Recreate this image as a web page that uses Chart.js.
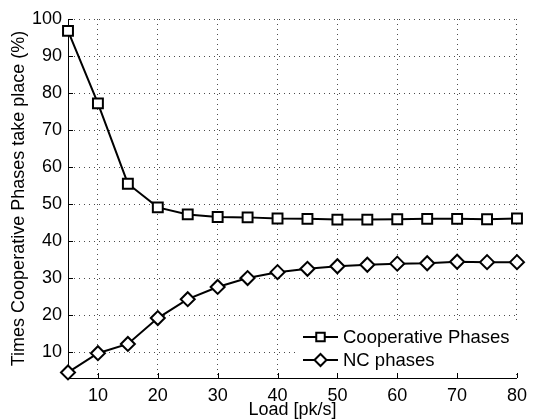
<!DOCTYPE html>
<html>
<head>
<meta charset="utf-8">
<script src="https://cdn.jsdelivr.net/npm/chart.js@4"></script>
<style>
  html, body { margin: 0; padding: 0; background: #fff; }
  #wrap { width: 534px; height: 419px; }
</style>
</head>
<body>
<div id="wrap"><canvas id="phases"></canvas></div>
<script>
// Load values [pk/s]
const loads = [5, 10, 15, 20, 25, 30, 35, 40, 45, 50, 55, 60, 65, 70, 75, 80];
// Share of cooperative / non-cooperative phases (%)
const cooperative = [96.8, 77.2, 55.5, 49.1, 47.2, 46.5, 46.4, 46.1, 46.0, 45.8, 45.8, 45.9, 46.0, 46.0, 45.9, 46.1];
const ncPhases = [4.5, 9.7, 12.2, 19.2, 24.3, 27.6, 30.0, 31.6, 32.5, 33.2, 33.6, 33.9, 34.0, 34.4, 34.3, 34.3];
const xTicks = [10, 20, 30, 40, 50, 60, 70, 80];
const yTicks = [10, 20, 30, 40, 50, 60, 70, 80, 90, 100];

const FONT = '"Liberation Sans", Arial, Helvetica, sans-serif';
const gridColor = '#4a4a4a';

// MATLAB-like inward tick marks on the left and bottom axes
const inwardTicks = {
  id: 'inwardTicks',
  afterDraw(chart) {
    const { ctx, chartArea: a, scales: { x, y } } = chart;
    ctx.save();
    ctx.strokeStyle = '#000';
    ctx.lineWidth = 1;
    ctx.beginPath();
    xTicks.forEach(v => {
      const px = Math.round(x.getPixelForValue(v)) + 0.5;
      ctx.moveTo(px, a.bottom);
      ctx.lineTo(px, a.bottom - 5);
    });
    yTicks.forEach(v => {
      const py = Math.round(y.getPixelForValue(v)) + 0.5;
      ctx.moveTo(a.left, py);
      ctx.lineTo(a.left + 5, py);
    });
    ctx.stroke();
    ctx.restore();
  }
};

// Legend box sitting inside the plot, lower right
const innerLegend = {
  id: 'innerLegend',
  afterDatasetsDraw(chart) {
    const { ctx } = chart;
    const bx = 299, by = 323, bw = 221, bh = 50;
    ctx.save();
    ctx.fillStyle = '#fff';
    ctx.fillRect(bx, by, bw, bh);
    chart.data.datasets.forEach((ds, i) => {
      const cy = 337 + i * 23;
      ctx.strokeStyle = '#000';
      ctx.lineWidth = 2;
      ctx.beginPath();
      ctx.moveTo(303, cy);
      ctx.lineTo(338, cy);
      ctx.stroke();
      ctx.fillStyle = '#fff';
      Chart.helpers.drawPoint(ctx, {
        pointStyle: ds.pointStyle,
        radius: ds.legendRadius,
        borderWidth: 2
      }, 320.5, cy);
      ctx.fillStyle = '#000';
      ctx.font = '18.5px ' + FONT;
      ctx.textBaseline = 'middle';
      ctx.textAlign = 'left';
      ctx.fillText(ds.label, 343, cy + 1);
    });
    ctx.restore();
  }
};

new Chart(document.getElementById('phases'), {
  type: 'line',
  data: {
    datasets: [
      {
        label: 'Cooperative Phases',
        data: loads.map((v, i) => ({ x: v, y: cooperative[i] })),
        borderColor: '#000',
        borderWidth: 2,
        pointStyle: 'rect',
        pointRadius: 7,
        legendRadius: 6,
        pointBorderWidth: 2,
        pointBackgroundColor: '#fff',
        pointBorderColor: '#000',
        tension: 0
      },
      {
        label: 'NC phases',
        data: loads.map((v, i) => ({ x: v, y: ncPhases[i] })),
        borderColor: '#000',
        borderWidth: 2,
        pointStyle: 'rectRot',
        pointRadius: 7,
        legendRadius: 6,
        pointBorderWidth: 2,
        pointBackgroundColor: '#fff',
        pointBorderColor: '#000',
        tension: 0
      }
    ]
  },
  options: {
    responsive: true,
    maintainAspectRatio: false,
    animation: false,
    clip: false,
    layout: { padding: { top: 19, right: 11, left: 0, bottom: 0 } },
    plugins: {
      legend: { display: false },
      tooltip: { enabled: false }
    },
    scales: {
      x: {
        type: 'linear',
        min: 5,
        max: 80,
        afterBuildTicks: s => { s.ticks = xTicks.map(v => ({ value: v })); },
        afterFit: s => { s.height = 41; },
        grid: { color: gridColor, lineWidth: 1, drawTicks: false },
        border: { display: true, color: '#000', width: 1, dash: [1, 4] },
        ticks: { color: '#000', padding: 7, maxRotation: 0, font: { family: FONT, size: 18 } },
        title: {
          display: true,
          text: 'Load [pk/s]',
          color: '#000',
          font: { family: FONT, size: 18 },
          padding: { top: 0, bottom: -2 }
        }
      },
      y: {
        type: 'linear',
        min: 3,
        max: 100,
        afterBuildTicks: s => { s.ticks = yTicks.map(v => ({ value: v })); },
        afterFit: s => { s.width = 68; },
        grid: { color: gridColor, lineWidth: 1, drawTicks: false },
        border: { display: true, color: '#000', width: 1, dash: [1, 4] },
        ticks: { color: '#000', padding: 6, font: { family: FONT, size: 18 } },
        title: {
          display: true,
          text: 'Times Cooperative Phases take place (%)',
          color: '#000',
          font: { family: FONT, size: 18 },
          padding: { top: 8, bottom: 0 }
        }
      }
    }
  },
  plugins: [inwardTicks, innerLegend]
});
</script>
</body>
</html>
